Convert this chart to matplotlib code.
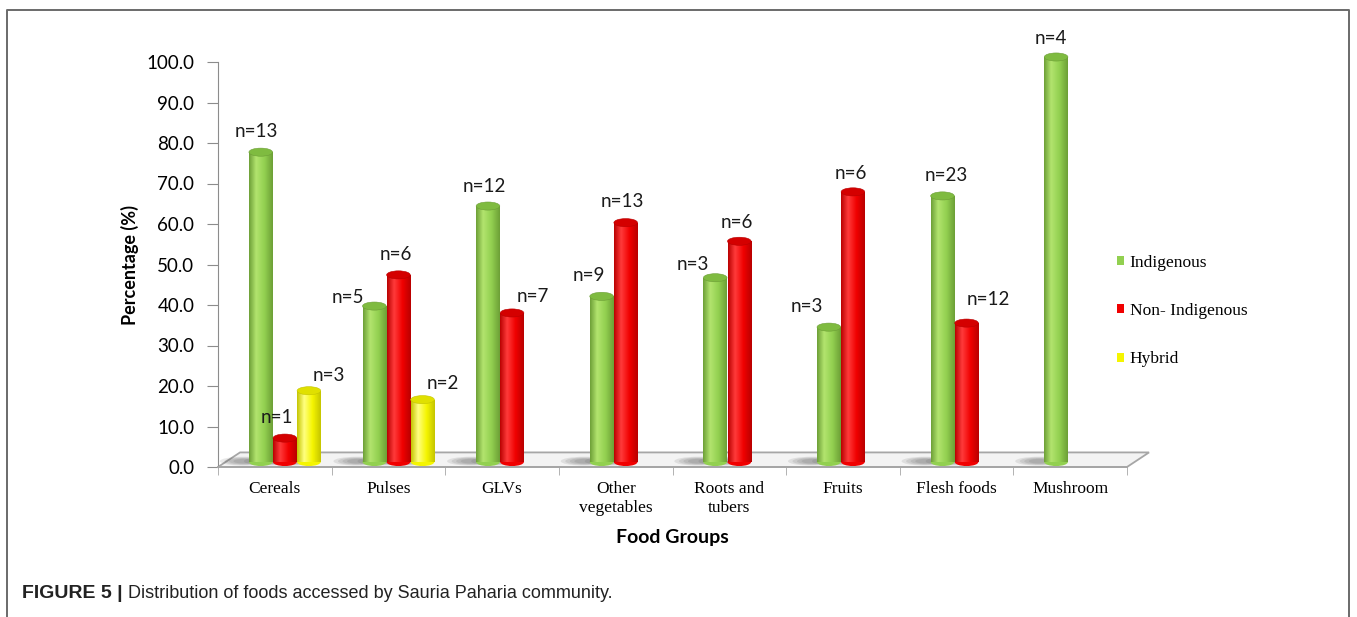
import numpy as np
import matplotlib.pyplot as plt
from matplotlib.patches import Ellipse, Polygon, Patch
from matplotlib.lines import Line2D
from matplotlib.colors import LinearSegmentedColormap
from matplotlib.transforms import offset_copy
from matplotlib.ticker import FixedLocator

groups = ['Cereals', 'Pulses', 'GLVs', 'Other\nvegetables', 'Roots and\ntubers',
          'Fruits', 'Flesh foods', 'Mushroom']
series = ['Indigenous', 'Non- Indigenous', 'Hybrid']
indigenous = [76.5, 38.5, 63.2, 40.9, 45.5, 33.3, 65.7, 100.0]
non_indigenous = [5.9, 46.2, 36.8, 59.1, 54.5, 66.7, 34.3, 0.0]
hybrid = [17.6, 15.4, 0.0, 0.0, 0.0, 0.0, 0.0, 0.0]
n_indigenous = [13, 5, 12, 9, 3, 3, 23, 4]
n_non_indigenous = [1, 6, 7, 13, 6, 6, 12, None]
n_hybrid = [3, 2, None, None, None, None, None, None]

# label offsets in pixels (dx, dy) from the top of each bar
off_ind = [(-4, 21), (-26, 9), (-4, 20), (-13, 21), (-22, 13), (-22, 21), (4, 20), (-5, 19)]
off_non = [(-8, 21), (-3, 20), (21, 16), (-3, 21), (-3, 19), (-2, 18), (22, 24), None]
off_hyb = [(20, 15), (20, 16), None, None, None, None, None, None]

# (edge, highlight, base, top colour)
shades = [
    ('#6c9e36', '#b2e46e', '#92d050', '#7fbb40'),
    ('#b80000', '#ff3a3a', '#f00000', '#d40000'),
    ('#c4c400', '#ffff80', '#f5f500', '#e0e000'),
]

plt.rcParams['font.family'] = ['Lato', 'DejaVu Sans']

fig = plt.figure(figsize=(13.57, 6.17), dpi=100)
W, H = 1357, 617
ax = fig.add_axes([218 / W, 1 - 467 / H, 909 / W, 405 / H])

x = np.arange(len(groups))
width = 0.212
bar_tr = offset_copy(ax.transData, fig=fig, x=10, y=5, units='dots')

# 3D floor
dx, dy = 0.194, 3.6
floor = Polygon([(-0.5, 0), (7.5, 0), (7.5 + dx, dy), (-0.5 + dx, dy)],
                closed=True, facecolor='#f3f3f3', edgecolor='#a6a6a6', lw=1.3, zorder=1,
                clip_on=False)
ax.add_patch(floor)

grad = np.linspace(0, 1, 64).reshape(1, -1)
all_vals = [indigenous, non_indigenous, hybrid]
all_n = [n_indigenous, n_non_indigenous, n_hybrid]
all_off = [off_ind, off_non, off_hyb]

for s, (vals, ns, offs) in enumerate(zip(all_vals, all_n, all_off)):
    edge, hi, base, top = shades[s]
    cmap = LinearSegmentedColormap.from_list('cyl%d' % s,
                                             [(0, edge), (0.3, hi), (0.65, base), (1, edge)])
    pos = x + (s - 1) * width
    bars = ax.bar(pos, vals, width * 0.98, color='none', edgecolor='none',
                  transform=bar_tr, zorder=3)
    for i, b in enumerate(bars):
        h = vals[i]
        if h <= 0:
            continue
        xc = pos[i]
        # floor shadow
        for k in range(4):
            ax.add_patch(Ellipse((xc - 0.15, 0.2), 0.42 - 0.08 * k, 2.2 - 0.35 * k,
                                 transform=bar_tr, facecolor='#3a3a3a', alpha=0.11,
                                 edgecolor='none', zorder=2, clip_on=False))
        ax.add_patch(Ellipse((xc, 0), width * 0.98, 2.0, transform=bar_tr,
                             facecolor=base, edgecolor='none', zorder=2.5, clip_on=False))
        im = ax.imshow(grad, cmap=cmap, aspect='auto', interpolation='bilinear',
                       extent=(xc - width / 2, xc + width / 2, 0, h),
                       transform=bar_tr, zorder=3)
        im.set_clip_path(b)
        ax.add_patch(Ellipse((xc, h), width * 0.98, 2.0, transform=bar_tr,
                             facecolor=top, edgecolor=edge, lw=0.4, zorder=4, clip_on=False))
        if ns[i] is not None:
            ax.annotate('n=%d' % ns[i], xy=(xc, h), xycoords=bar_tr,
                        xytext=offs[i], textcoords='offset pixels',
                        ha='center', va='center', fontsize=13.5, color='#1a1a1a',
                        annotation_clip=False)

ax.set_xlim(-0.5, 7.5)
ax.set_ylim(0, 100)

for side in ['top', 'right']:
    ax.spines[side].set_visible(False)
ax.spines['left'].set_color('#8c8c8c')
ax.spines['bottom'].set_color('#a6a6a6')
ax.spines['bottom'].set_linewidth(1.3)

ax.set_yticks(np.arange(0, 101, 10))
ax.set_yticklabels(['%.1f' % v for v in np.arange(0, 101, 10)])
ax.tick_params(axis='y', length=8, color='#8c8c8c', labelsize=13.5, pad=9)

ax.set_xticks(x)
ax.set_xticklabels(groups, fontfamily='Liberation Serif', fontsize=12.5, linespacing=1.25)
ax.xaxis.set_minor_locator(FixedLocator(np.arange(-0.5, 8, 1)))
ax.tick_params(axis='x', which='major', length=0, pad=10)
ax.tick_params(axis='x', which='minor', length=6, color='#a6a6a6')

fig.text(130 / W, 1 - 265 / H, 'Percentage (%)', rotation=90, fontsize=13,
         fontweight='bold', ha='center', va='center')
fig.text(672 / W, 1 - 538 / H, 'Food Groups', fontsize=14, fontweight='bold',
         ha='center', va='center')

handles = [Patch(facecolor=shades[k][2], edgecolor='none') for k in range(3)]
fig.legend(handles, series, loc='upper left', bbox_to_anchor=(1117 / W, 1 - 255 / H),
           frameon=False, prop={'family': 'Liberation Serif', 'size': 12.5},
           handlelength=0.42, handleheight=0.42, handletextpad=0.3,
           labelspacing=1.85, borderpad=0, borderaxespad=0)

# frame around figure panel
fig.add_artist(Line2D([7 / W, 7 / W, 1349 / W, 1349 / W], [0, 1 - 10 / H, 1 - 10 / H, 0],
                      transform=fig.transFigure, color='#6a6a6a', lw=1.4))

cap = fig.text(22 / W, 1 - 593 / H, 'FIGURE 5 |', fontfamily='Liberation Sans',
               fontweight='bold', fontsize=14, va='center', color='#222222')
ax.annotate(' Distribution of foods accessed by Sauria Paharia community.',
            xy=(1, 0.5), xycoords=cap, va='center', ha='left',
            fontfamily='Liberation Sans', fontsize=13, color='#222222',
            annotation_clip=False)

fig.savefig('out.png', dpi=100)
